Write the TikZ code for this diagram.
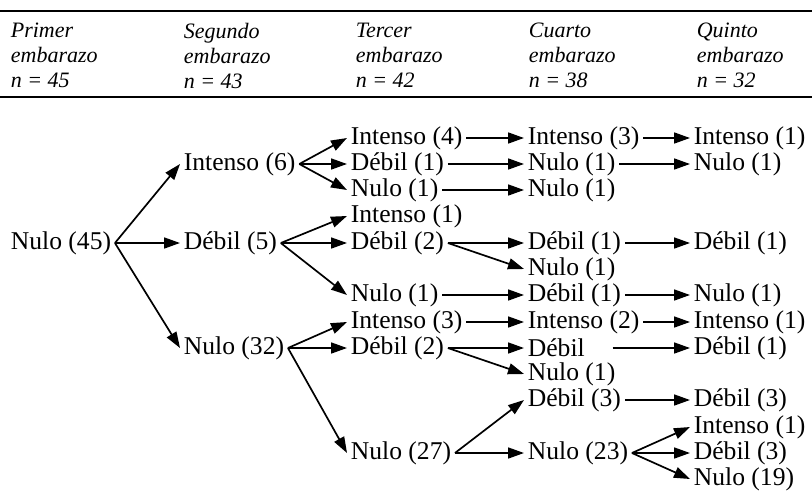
\documentclass[tikz,border=0pt]{standalone}
\usepackage{fontspec}
\setmainfont{Liberation Serif}
\usepackage{tikz}
\usetikzlibrary{arrows.meta}

\tikzset{
  lbl/.style={anchor=west,inner sep=1.5pt,font=\fontsize{12.8}{14}\selectfont},
  hdr/.style={anchor=north west,inner sep=0pt,align=left,font=\fontsize{11}{12.5}\selectfont\itshape},
}

\begin{document}
\begin{tikzpicture}[x=0.5pt,y=-0.5pt,>={Triangle[length=8pt,width=5.5pt]},line width=0.85pt]
   \useasboundingbox (0,0) rectangle (812,492);

   \coordinate (tl) at (0,11);
   \coordinate (tr) at (812,11);
   \coordinate (bl) at (0,97);
   \coordinate (br) at (812,97);
   \draw (tl) -- (tr) ;
   \draw (bl) -- (br) ;

   \node[hdr] (h1) at (10,22) {Primer\\embarazo\\n = 45};
   \node[hdr] (h2) at (183,22) {Segundo\\embarazo\\n = 43};
   \node[hdr] (h3) at (355,22) {Tercer\\embarazo\\n = 42};
   \node[hdr] (h4) at (528,22) {Cuarto\\embarazo\\n = 38};
   \node[hdr] (h5) at (696,22) {Quinto\\embarazo\\n = 32};

   \node[lbl] (p1) at (7,243) {Nulo (45)};

   \node[lbl] (s1) at (180,164) {Intenso (6)};
   \node[lbl] (s2) at (180,243) {Débil (5)};
   \node[lbl] (s3) at (180,348) {Nulo (32)};

   \node[lbl] (t1) at (347,138) {Intenso (4)};
   \node[lbl] (t2) at (347,164) {Débil (1)};
   \node[lbl] (t3) at (347,190) {Nulo (1)};
   \node[lbl] (t4) at (347,216) {Intenso (1)};
   \node[lbl] (t5) at (347,243) {Débil (2)};
   \node[lbl] (t6) at (347,295) {Nulo (1)};
   \node[lbl] (t7) at (347,322) {Intenso (3)};
   \node[lbl] (t8) at (347,348) {Débil (2)};
   \node[lbl] (t9) at (347,453) {Nulo (27)};

   \node[lbl] (c1) at (524,138) {Intenso (3)};
   \node[lbl] (c2) at (524,164) {Nulo (1)};
   \node[lbl] (c3) at (524,190) {Nulo (1)};
   \node[lbl] (c4) at (524,243) {Débil (1)};
   \node[lbl] (c5) at (524,269) {Nulo (1)};
   \node[lbl] (c6) at (524,295) {Débil (1)};
   \node[lbl] (c7) at (524,322) {Intenso (2)};
   \node[lbl] (c8) at (524,348) {Débil};
   \node[lbl] (c9) at (524,374) {Nulo (1)};
   \node[lbl] (c10) at (524,400) {Débil (3)};
   \node[lbl] (c11) at (524,453) {Nulo (23)};

   \node[lbl] (q1) at (690,138) {Intenso (1)};
   \node[lbl] (q2) at (690,164) {Nulo (1)};
   \node[lbl] (q3) at (690,243) {Débil (1)};
   \node[lbl] (q4) at (690,295) {Nulo (1)};
   \node[lbl] (q5) at (690,322) {Intenso (1)};
   \node[lbl] (q6) at (690,348) {Débil (1)};
   \node[lbl] (q7) at (690,400) {Débil (3)};
   \node[lbl] (q8) at (690,427) {Intenso (1)};
   \node[lbl] (q9) at (690,453) {Débil (3)};
   \node[lbl] (q10) at (690,479) {Nulo (19)};

   \draw [->] (p1.east) -- (s1.west) ;
   \draw [->] (p1.east) -- (s2.west) ;
   \draw [->] (p1.east) -- (s3.west) ;

   \draw [->] (s1.east) -- (t1.west) ;
   \draw [->] (s1.east) -- (t2.west) ;
   \draw [->] (s1.east) -- (t3.west) ;
   \draw [->] (s2.east) -- (t4.west) ;
   \draw [->] (s2.east) -- (t5.west) ;
   \draw [->] (s2.east) -- (t6.west) ;
   \draw [->] (s3.east) -- (t7.west) ;
   \draw [->] (s3.east) -- (t8.west) ;
   \draw [->] (s3.east) -- (t9.west) ;

   \draw [->] (t1.east) -- (c1.west) ;
   \draw [->] (t2.east) -- (c2.west) ;
   \draw [->] (t3.east) -- (c3.west) ;
   \draw [->] (t5.east) -- (c4.west) ;
   \draw [->] (t5.east) -- (c5.west) ;
   \draw [->] (t6.east) -- (c6.west) ;
   \draw [->] (t7.east) -- (c7.west) ;
   \draw [->] (t8.east) -- (c8.west) ;
   \draw [->] (t8.east) -- (c9.west) ;
   \draw [->] (t9.east) -- (c10.west) ;
   \draw [->] (t9.east) -- (c11.west) ;

   \draw [->] (c1.east) -- (q1.west) ;
   \draw [->] (c2.east) -- (q2.west) ;
   \draw [->] (c4.east) -- (q3.west) ;
   \draw [->] (c6.east) -- (q4.west) ;
   \draw [->] (c7.east) -- (q5.west) ;
   \draw [->] ([xshift=12pt]c8.east) -- (q6.west) ;
   \draw [->] (c10.east) -- (q7.west) ;
   \draw [->] (c11.east) -- (q8.west) ;
   \draw [->] (c11.east) -- (q9.west) ;
   \draw [->] (c11.east) -- (q10.west) ;
\end{tikzpicture}
\end{document}
